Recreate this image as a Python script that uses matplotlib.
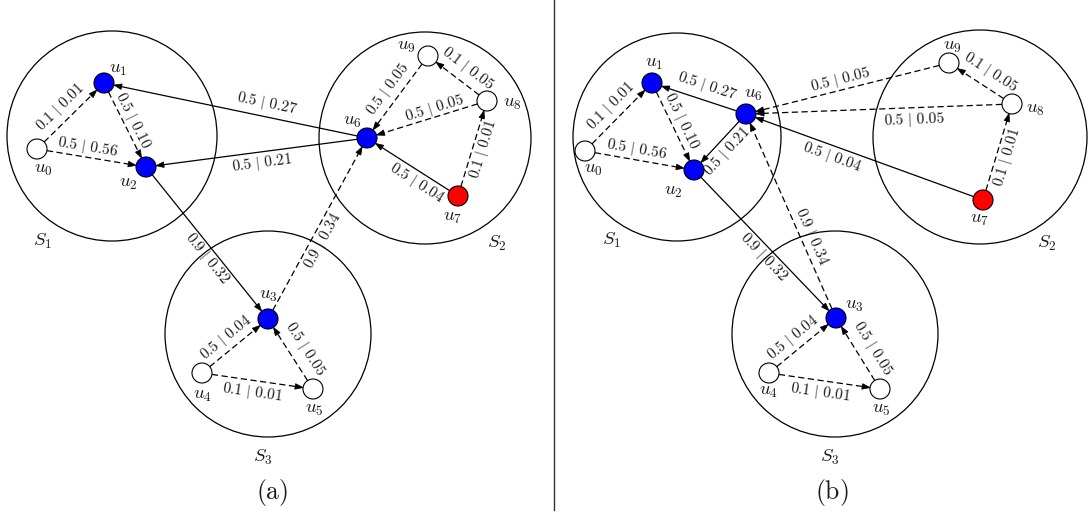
import numpy as np
import matplotlib
matplotlib.use('Agg')
import matplotlib.pyplot as plt
from matplotlib.patches import Circle, Polygon

plt.rcParams['mathtext.fontset'] = 'cm'
plt.rcParams['lines.scale_dashes'] = False

# nodes (same for both panels)
node_names = ['u0', 'u1', 'u2', 'u3', 'u4', 'u5', 'u6', 'u7', 'u8', 'u9']
node_colors = ['white', 'blue', 'blue', 'blue', 'white', 'white', 'blue', 'red', 'white', 'white']

# node positions in pixels, panel (a) and (b)
pos_a = [(37, 149), (104, 83), (146, 167), (268, 319), (202, 373),
         (313, 389), (367, 138), (458, 196), (487, 101), (428, 56)]
pos_b = [(585, 151), (652, 83), (694, 170), (836, 318), (769, 373),
         (880, 389), (746, 114), (983, 200), (1012, 104), (949, 63)]

# edges: source, target, label, dashed
edge_src = [0, 0, 1, 6, 6, 2, 3, 4, 5, 4, 9, 8, 8, 7, 7]
edge_dst = [1, 2, 2, 1, 2, 3, 6, 3, 3, 5, 6, 6, 9, 8, 6]
edge_labels = ['0.1 | 0.01', '0.5 | 0.56', '0.5 | 0.10', '0.5 | 0.27', '0.5 | 0.21',
               '0.9 | 0.32', '0.9 | 0.34', '0.5 | 0.04', '0.5 | 0.05', '0.1 | 0.01',
               '0.5 | 0.05', '0.5 | 0.05', '0.1 | 0.05', '0.1 | 0.01', '0.5 | 0.04']
edge_dashed = [True, True, True, False, False, False, True, True, True, True,
               True, True, True, True, False]

# clusters
cluster_names = ['S1', 'S2', 'S3']
clusters_a = [(112, 136, 105), (425, 138, 106), (268, 334, 103)]
clusters_b = [(677, 137, 104), (980, 137, 107), (835, 334, 103)]

# layout: label position along edge (t) and side offset in px
lab_t_a = [0.49, 0.45, 0.49, 0.39, 0.48, 0.56, 0.46, 0.48, 0.46, 0.47, 0.49, 0.42, 0.47, 0.52, 0.39]
lab_off_a = [13, 10.5, 9.5, -13.5, 11.5, -9, -10.5, 12.5, -15, -12, -12.5, -8, -14, -10.5, 11]
lab_t_b = [0.52, 0.46, 0.48, 0.46, 0.53, 0.54, 0.38, 0.47, 0.46, 0.48, 0.52, 0.37, 0.47, 0.48, 0.62]
lab_off_b = [13, 11, 10.5, -14, 11.5, -10, -10.5, 12.5, -15, -12, -10.5, 12, -15, -11, 11.5]

# node name offsets
name_off_a = [(6, 19), (14, -14), (-18, 16), (0, -24), (0, 21),
              (1, 20), (-15, -17), (-5, 21), (25, 2), (-22, -10)]
name_off_b = [(8, 17), (2, -20), (-21, 20), (18, -14), (-1, 17),
              (1, 20), (7, -20), (-3, 19), (23, 5), (3, -17)]
set_lab_a = [(43, 241), (497, 243), (263, 457)]
set_lab_b = [(612, 240), (1047, 243), (830, 457)]

R = 10  # node radius
TXT = '#1a1a1a'


def draw_panel(ax, pos, clusters, lab_t, lab_off, name_off, set_lab, title, title_xy):
    pos = np.array(pos, dtype=float)
    for (cx, cy, r) in clusters:
        ax.add_patch(Circle((cx, cy), r, fill=False, lw=0.9, ec='black', zorder=1))
    for k, (sx, sy) in enumerate(set_lab):
        ax.text(sx, sy, r'$S_{%s}$' % cluster_names[k][1], fontsize=13.5,
                ha='center', va='center', color=TXT)

    for i in range(len(edge_src)):
        A = pos[edge_src[i]]
        B = pos[edge_dst[i]]
        d = (B - A) / np.linalg.norm(B - A)
        n = np.array([d[1], -d[0]])
        start = A + d * R
        tip = B - d * R
        base = tip - d * 8
        ls = (0, (4.5, 2.5)) if edge_dashed[i] else '-'
        ax.plot([start[0], base[0] + d[0] * 2], [start[1], base[1] + d[1] * 2],
                color='black', lw=0.9, linestyle=ls, zorder=2)
        ax.add_patch(Polygon([tip, base + n * 2.8, base - n * 2.8],
                             closed=True, fc='black', ec='black', lw=0.5, zorder=3))
        # label
        L = A + (B - A) * lab_t[i] + n * lab_off[i]
        ang = np.degrees(np.arctan2(-d[1], d[0]))
        if ang > 90:
            ang -= 180
        elif ang <= -90:
            ang += 180
        a, b = edge_labels[i].split(' | ')
        ax.text(L[0], L[1], r'$%s\ \vert\ %s$' % (a, b), fontsize=11, rotation=ang,
                rotation_mode='anchor', ha='center', va='center', color=TXT, zorder=5)

    for k in range(len(node_names)):
        x, y = pos[k]
        ax.add_patch(Circle((x, y), R, fc=node_colors[k], ec='black', lw=0.8, zorder=4))
        ox, oy = name_off[k]
        ax.text(x + ox, y + oy, r'$u_{%s}$' % node_names[k][1:], fontsize=13.5,
                ha='center', va='center', color=TXT, zorder=5)

    ax.text(title_xy[0], title_xy[1], r'$\mathrm{(%s)}$' % title, fontsize=18.5,
            ha='center', va='center', color=TXT)


fig = plt.figure(figsize=(10.89, 5.14), dpi=100)
ax = fig.add_axes([0, 0, 1, 1])
ax.set_xlim(0, 1089)
ax.set_ylim(514, 0)
ax.axis('off')

draw_panel(ax, pos_a, clusters_a, lab_t_a, lab_off_a, name_off_a, set_lab_a, 'a', (272, 492))
draw_panel(ax, pos_b, clusters_b, lab_t_b, lab_off_b, name_off_b, set_lab_b, 'b', (832, 492))

# divider
ax.plot([554, 554], [0, 510], color='#333333', lw=1.0)

fig.savefig('out.png', dpi=100)
